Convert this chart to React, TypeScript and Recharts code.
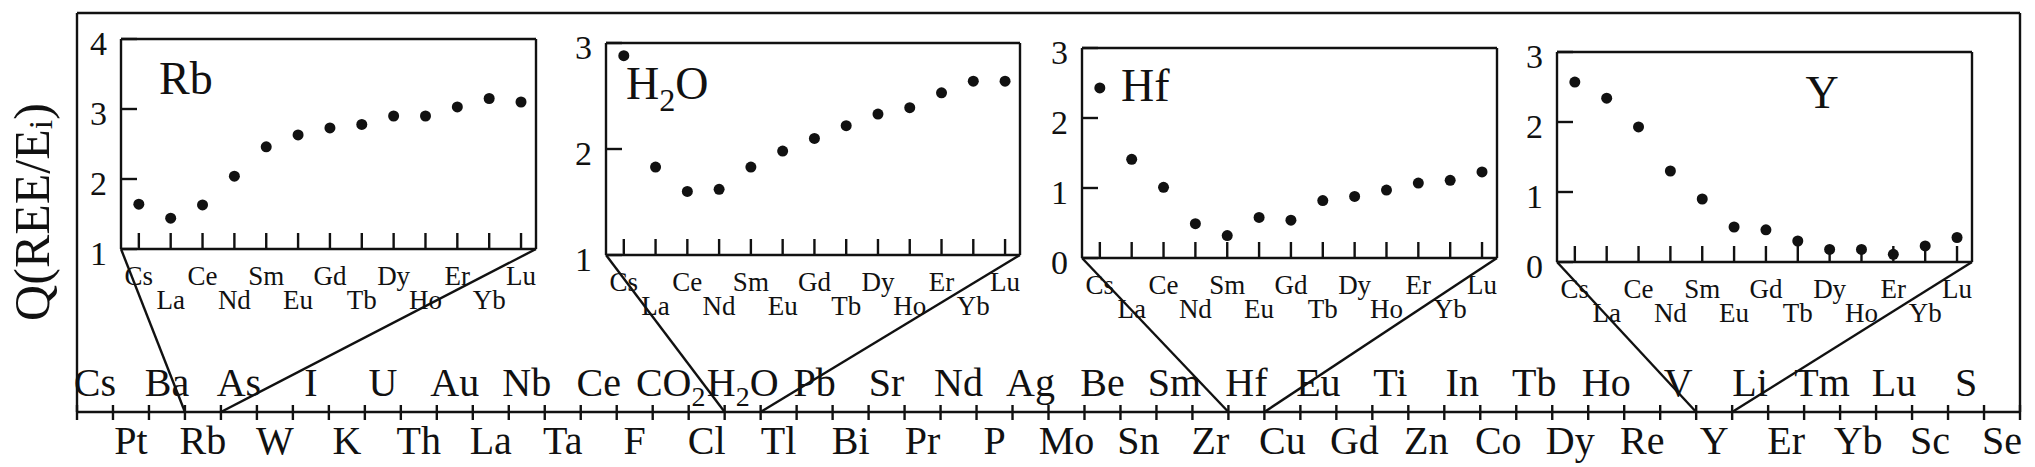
import React from "react";
import { ScatterChart, Scatter, XAxis, YAxis, ReferenceLine } from "recharts";

const W = 2035;
const H = 467;
const FONT = '"Liberation Serif", "Times New Roman", serif';
const INK = "#111";
const SW = 2.4;

// main axis, alternating upper / lower labels
const elements = [
  "Cs", "Pt", "Ba", "Rb", "As", "W", "I", "K", "U", "Th", "Au", "La", "Nb", "Ta",
  "Ce", "F", "CO2", "Cl", "H2O", "Tl", "Pb", "Bi", "Sr", "Pr", "Nd", "P", "Ag", "Mo",
  "Be", "Sn", "Sm", "Zr", "Hf", "Cu", "Eu", "Gd", "Ti", "Zn", "In", "Co", "Tb", "Dy",
  "Ho", "Re", "V", "Y", "Li", "Er", "Tm", "Yb", "Lu", "Sc", "S", "Se",
];

// inset categories
const reeLabels = ["Cs", "La", "Ce", "Nd", "Sm", "Eu", "Gd", "Tb", "Dy", "Ho", "Er", "Yb", "Lu"];

const rbValues = [1.64, 1.44, 1.63, 2.04, 2.46, 2.63, 2.73, 2.78, 2.9, 2.9, 3.03, 3.15, 3.1];
const h2oValues = [2.88, 1.83, 1.6, 1.62, 1.83, 1.98, 2.1, 2.22, 2.33, 2.39, 2.53, 2.64, 2.64];
const hfValues = [2.43, 1.41, 1.01, 0.49, 0.32, 0.58, 0.54, 0.82, 0.88, 0.97, 1.07, 1.11, 1.23];
const yValues = [2.57, 2.34, 1.93, 1.3, 0.9, 0.5, 0.46, 0.3, 0.18, 0.18, 0.11, 0.23, 0.35];

const rbTicks = [1, 2, 3, 4];
const h2oTicks = [1, 2, 3];
const hfTicks = [0, 1, 2, 3];
const yTicks = [0, 1, 2, 3];

const MAIN = { left: 77, top: 13, right: 2020, bottom: 412 };
const band = (MAIN.right - MAIN.left) / elements.length;
const toMainX = (px: number) => (px - MAIN.left) / band;
const toMainY = (py: number) => MAIN.bottom - py;

const insets = [
  { element: "Rb", title: "Rb", values: rbValues, ticks: rbTicks, box: { left: 121, top: 39, right: 536, bottom: 249 }, titleX: 159, titleY: 94, anchor: "start" },
  { element: "H2O", title: "H2O", values: h2oValues, ticks: h2oTicks, box: { left: 606, top: 43, right: 1020, bottom: 255 }, titleX: 626, titleY: 99, anchor: "start" },
  { element: "Hf", title: "Hf", values: hfValues, ticks: hfTicks, box: { left: 1082, top: 48, right: 1497, bottom: 258 }, titleX: 1121, titleY: 101, anchor: "start" },
  { element: "Y", title: "Y", values: yValues, ticks: yTicks, box: { left: 1557, top: 52, right: 1972, bottom: 262 }, titleX: 1822, titleY: 108, anchor: "middle" },
];

const X_DOMAIN = [-0.56, 12.47];

function chem(label: string, size: number) {
  const parts = label.split(/(\d+)/).filter(Boolean);
  let shifted = false;
  const shift = size * 0.25;
  return parts.map((p, k) => {
    const isDigit = /^\d+$/.test(p);
    let dy: number | undefined;
    if (isDigit && !shifted) {
      dy = shift;
      shifted = true;
    } else if (!isDigit && shifted) {
      dy = -shift;
      shifted = false;
    }
    return (
      <tspan key={k} dy={dy} fontSize={isDigit ? size * 0.7 : size}>
        {p}
      </tspan>
    );
  });
}

const mainTicks = Array.from({ length: elements.length * 2 + 1 }, (_, i) => i / 2);

function MainTick(props: any) {
  const { x, y, payload } = props;
  const v = payload.value;
  if (Number.isInteger(v)) {
    return <line x1={x} x2={x} y1={y - 7} y2={y + 8} stroke={INK} strokeWidth={SW} />;
  }
  const i = Math.floor(v);
  const upper = i % 2 === 0;
  return (
    <text x={x} y={upper ? y - 16 : y + 42} textAnchor="middle" fontFamily={FONT} fontSize={40} fill={INK}>
      {chem(elements[i], 40)}
    </text>
  );
}

function ReeTick(props: any) {
  const { x, y, payload } = props;
  const i = payload.value;
  return (
    <g>
      <line x1={x} x2={x} y1={y} y2={y - 16} stroke={INK} strokeWidth={SW} />
      <text x={x} y={y + (i % 2 === 0 ? 36 : 60)} textAnchor="middle" fontFamily={FONT} fontSize={27} fill={INK}>
        {reeLabels[i]}
      </text>
    </g>
  );
}

function ValTick(props: any) {
  const { x, y, payload } = props;
  return (
    <g>
      <line x1={x} x2={x + 16} y1={y} y2={y} stroke={INK} strokeWidth={SW} />
      <text x={x - 14} y={y + 4} textAnchor="end" dominantBaseline="central" fontFamily={FONT} fontSize={34} fill={INK}>
        {payload.value}
      </text>
    </g>
  );
}

const dot = (p: any) => <circle cx={p.cx} cy={p.cy} r={5.5} fill={INK} />;

function Inset({ cfg }: { cfg: (typeof insets)[number] }) {
  const { box } = cfg;
  const data = reeLabels.map((name, i) => ({ name, x: i, y: cfg.values[i] }));
  const yMax = cfg.ticks[cfg.ticks.length - 1];
  return (
    <div style={{ position: "absolute", left: 0, top: 0 }}>
      <ScatterChart
        width={W}
        height={H}
        margin={{ top: box.top, left: box.left - 1, right: W - box.right, bottom: H - box.bottom - 1 }}
      >
        <XAxis
          type="number"
          dataKey="x"
          domain={X_DOMAIN}
          allowDataOverflow
          ticks={reeLabels.map((_, i) => i)}
          interval={0}
          tick={<ReeTick />}
          tickLine={false}
          tickSize={0}
          tickMargin={0}
          height={1}
          axisLine={{ stroke: INK, strokeWidth: SW }}
        />
        <YAxis
          type="number"
          dataKey="y"
          domain={[cfg.ticks[0], yMax]}
          allowDataOverflow
          ticks={cfg.ticks}
          interval={0}
          tick={<ValTick />}
          tickLine={false}
          tickSize={0}
          tickMargin={0}
          width={1}
          axisLine={{ stroke: INK, strokeWidth: SW }}
        />
        <ReferenceLine y={yMax} stroke={INK} strokeWidth={SW} />
        <ReferenceLine x={X_DOMAIN[1]} stroke={INK} strokeWidth={SW} />
        <Scatter data={data} shape={dot} isAnimationActive={false} />
        <text
          x={cfg.titleX}
          y={cfg.titleY}
          textAnchor={cfg.anchor as any}
          fontFamily={FONT}
          fontSize={46}
          fill={INK}
        >
          {chem(cfg.title, 46)}
        </text>
      </ScatterChart>
    </div>
  );
}

function MainChart() {
  return (
    <div style={{ position: "absolute", left: 0, top: 0 }}>
      <ScatterChart
        width={W}
        height={H}
        margin={{ top: MAIN.top, left: MAIN.left - 1, right: W - MAIN.right, bottom: H - MAIN.bottom - 1 }}
      >
        <XAxis
          type="number"
          dataKey="x"
          domain={[0, elements.length]}
          allowDataOverflow
          ticks={mainTicks}
          interval={0}
          tick={<MainTick />}
          tickLine={false}
          tickSize={0}
          tickMargin={0}
          height={1}
          axisLine={{ stroke: INK, strokeWidth: SW }}
        />
        <YAxis
          type="number"
          dataKey="y"
          domain={[0, MAIN.bottom - MAIN.top]}
          allowDataOverflow
          tick={false}
          tickLine={false}
          width={1}
          axisLine={{ stroke: INK, strokeWidth: SW }}
        />
        <ReferenceLine y={MAIN.bottom - MAIN.top} stroke={INK} strokeWidth={SW} />
        <ReferenceLine x={elements.length} stroke={INK} strokeWidth={SW} />
        <Scatter data={[]} isAnimationActive={false} />
        {insets.flatMap((cfg) => {
          const k = elements.indexOf(cfg.element);
          const { box } = cfg;
          return [
            <ReferenceLine
              key={cfg.element + "-l"}
              segment={[
                { x: toMainX(box.left), y: toMainY(box.bottom) },
                { x: k, y: 0 },
              ]}
              stroke={INK}
              strokeWidth={SW}
            />,
            <ReferenceLine
              key={cfg.element + "-r"}
              segment={[
                { x: toMainX(box.right), y: toMainY(box.bottom) },
                { x: k + 1, y: 0 },
              ]}
              stroke={INK}
              strokeWidth={SW}
            />,
          ];
        })}
        <text
          transform="translate(32, 212) rotate(-90)"
          textAnchor="middle"
          dominantBaseline="central"
          fontFamily={FONT}
          fontSize={50}
          fill={INK}
        >
          Q(REE/E
          <tspan fontSize={34} dy={8}>i</tspan>
          <tspan dy={-8}>)</tspan>
        </text>
      </ScatterChart>
    </div>
  );
}

export default function App() {
  return (
    <div style={{ position: "absolute", left: 0, top: 0, width: W, height: H, background: "#fff" }}>
      <MainChart />
      {insets.map((cfg) => (
        <Inset key={cfg.element} cfg={cfg} />
      ))}
    </div>
  );
}
